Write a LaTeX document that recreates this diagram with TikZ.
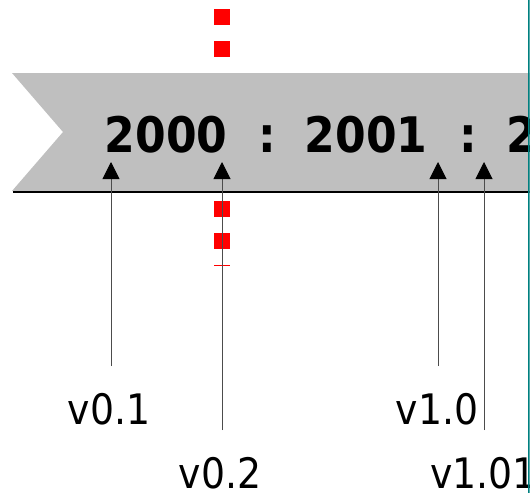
\documentclass[tikz,border=0pt]{standalone}
\usepackage{fontspec}
\newfontfamily\condfont{DejaVu Sans Condensed}
\usetikzlibrary{arrows.meta,positioning}

\begin{document}
\begin{tikzpicture}[x=1pt,y=-1pt,
        year/.style={anchor=base,inner sep=0pt,font=\condfont\bfseries\fontsize{49}{49}\selectfont},
        ver/.style={anchor=base,inner sep=0pt,font=\condfont\fontsize{42}{42}\selectfont},
        tick/.style={draw=black!70,line width=1pt,-{Triangle[width=17pt,length=17pt,color=black]}}]
        \useasboundingbox (0,0) rectangle (530,493);
        \clip (0,0) rectangle (529.5,493);
        \draw[red,line width=16pt,dash pattern=on 16pt off 16pt] (222,9) -- (222,266);
        \fill[gray!50] (12,73) -- (530,73) -- (530,191) -- (12,191) -- (63,132) -- cycle;
        \draw[line width=2pt] (13,192) -- (530,192);
        \node[year] (y2000) at (166,152) {2000};
        \node[year] (c1) at (267,152) {:};
        \node[year] (y2001) at (366,152) {2001};
        \node[year] (c2) at (468,152) {:};
        \node[year,anchor=base west] (y2002) at (506,152) {2};
        \node[ver] (v01) at (109,424) {v0.1};
        \node[ver] (v02) at (220,488) {v0.2};
        \node[ver] (v10) at (437,424) {v1.0};
        \node[ver,anchor=base west] (v101) at (430,488) {v1.01};
        \coordinate (t01) at (111,162);
        \coordinate (t02) at (222,162);
        \coordinate (t10) at (438,162);
        \coordinate (t101) at (484,162);
        \coordinate (b01) at (111,366);
        \coordinate (b02) at (222,430);
        \coordinate (b10) at (438,366);
        \coordinate (b101) at (484,430);
        \draw[tick] (b01) -- (t01);
        \draw[tick] (b02) -- (t02);
        \draw[tick] (b10) -- (t10);
        \draw[tick] (b101) -- (t101);
        \draw[teal,line width=1.5pt] (529,0) -- (529,493);
\end{tikzpicture}
\end{document}
